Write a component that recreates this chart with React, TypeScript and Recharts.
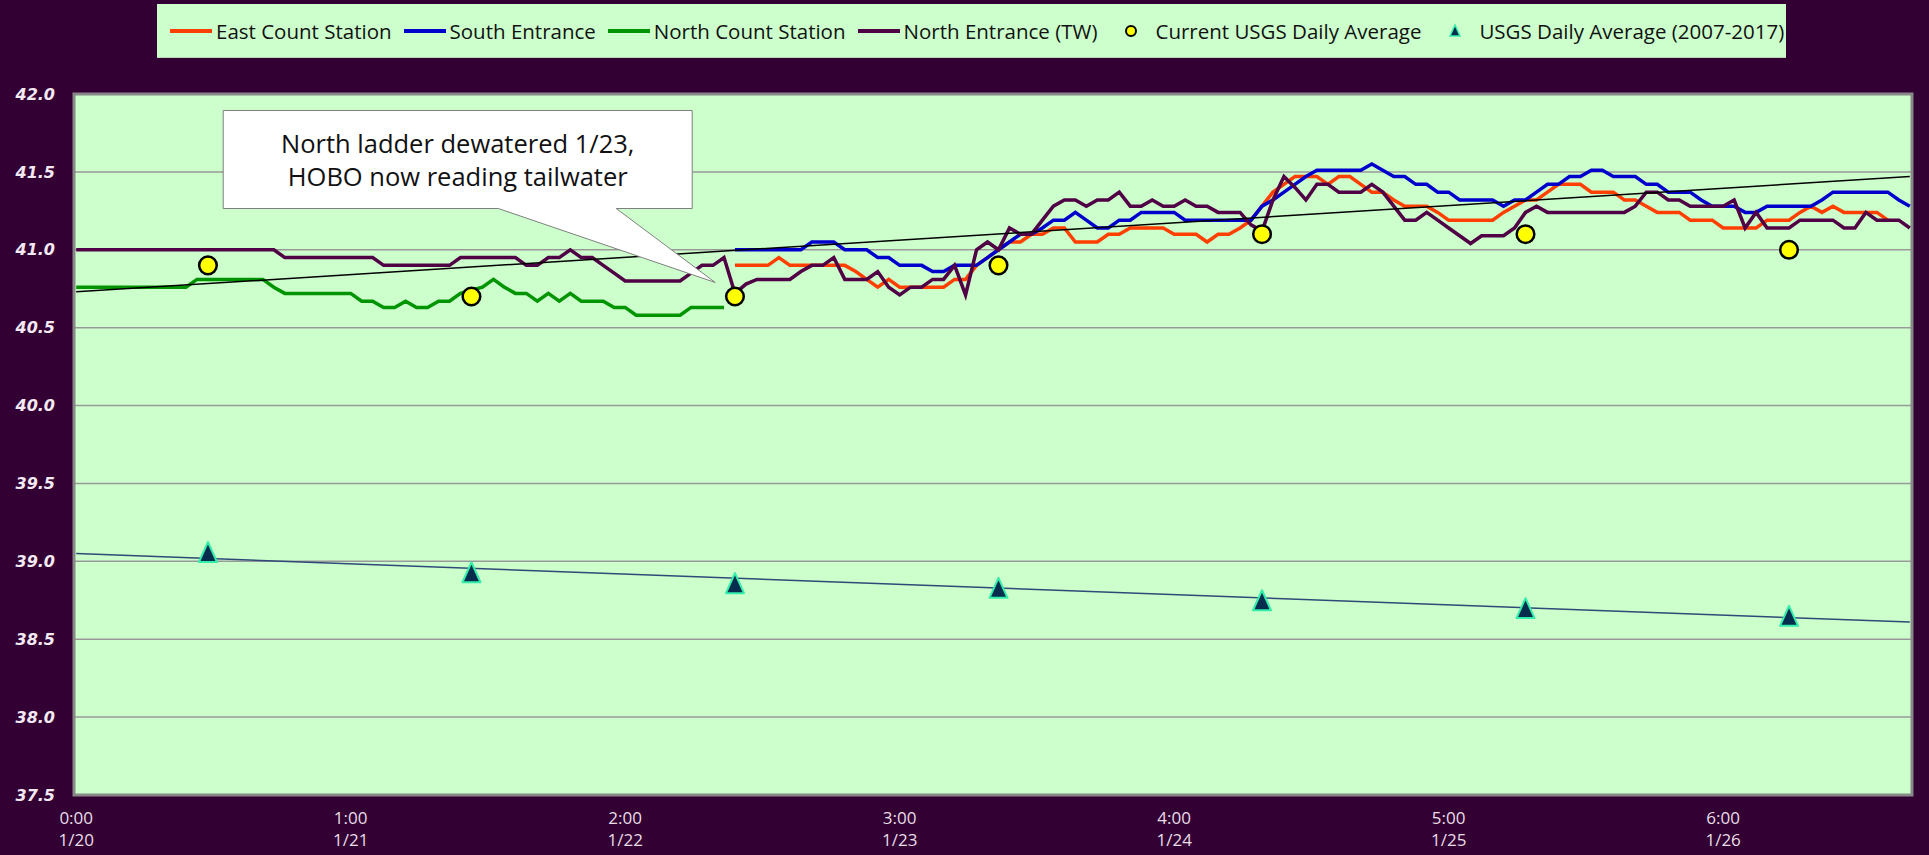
import {
  ComposedChart,
  Line,
  XAxis,
  YAxis,
  CartesianGrid,
  Legend,
  ReferenceArea,
  ReferenceDot,
} from "recharts";

// hours since 1/20 0:00; the axis steps 25 h so labels read 0:00 1/20, 1:00 1/21 ...
const tickHours = [0, 25, 50, 75, 100, 125, 150];
const tickTimes = ["0:00", "1:00", "2:00", "3:00", "4:00", "5:00", "6:00"];
const tickDates = ["1/20", "1/21", "1/22", "1/23", "1/24", "1/25", "1/26"];
const yTicks = [37.5, 38, 38.5, 39, 39.5, 40, 40.5, 41, 41.5, 42];

// hourly readings (ft)
const northEntranceStart = 0;
const northEntrance = [
  41.0, 41.0, 41.0, 41.0, 41.0, 41.0, 41.0, 41.0, 41.0, 41.0, 41.0, 41.0, 41.0, 41.0, 41.0, 41.0, 41.0, 41.0, 41.0, 40.95, 40.95, 40.95, 40.95, 40.95,
  40.95, 40.95, 40.95, 40.95, 40.9, 40.9, 40.9, 40.9, 40.9, 40.9, 40.9, 40.95, 40.95, 40.95, 40.95, 40.95, 40.95, 40.9, 40.9, 40.95, 40.95, 41.0, 40.95, 40.95,
  40.9, 40.85, 40.8, 40.8, 40.8, 40.8, 40.8, 40.8, 40.85, 40.9, 40.9, 40.95, 40.72, 40.78, 40.81, 40.81, 40.81, 40.81, 40.86, 40.9, 40.9, 40.95, 40.81, 40.81,
  40.81, 40.86, 40.76, 40.71, 40.76, 40.76, 40.81, 40.81, 40.9, 40.71, 41.0, 41.05, 41.0, 41.14, 41.1, 41.1, 41.19, 41.28, 41.32, 41.32, 41.28, 41.32, 41.32, 41.37,
  41.28, 41.28, 41.32, 41.28, 41.28, 41.32, 41.28, 41.28, 41.24, 41.24, 41.24, 41.16, 41.12, 41.32, 41.47, 41.4, 41.32, 41.42, 41.42, 41.37, 41.37, 41.37, 41.42, 41.37,
  41.28, 41.19, 41.19, 41.24, 41.19, 41.14, 41.09, 41.04, 41.09, 41.09, 41.09, 41.14, 41.24, 41.28, 41.24, 41.24, 41.24, 41.24, 41.24, 41.24, 41.24, 41.24, 41.28, 41.37,
  41.37, 41.32, 41.32, 41.28, 41.28, 41.28, 41.28, 41.32, 41.14, 41.24, 41.14, 41.14, 41.14, 41.19, 41.19, 41.19, 41.19, 41.14, 41.14, 41.24, 41.19, 41.19, 41.19, 41.14,
];

const northCountStart = 0;
const northCountStation = [
  40.76, 40.76, 40.76, 40.76, 40.76, 40.76, 40.76, 40.76, 40.76, 40.76, 40.76, 40.81, 40.81, 40.81, 40.81, 40.81, 40.81, 40.81, 40.76, 40.72, 40.72, 40.72, 40.72, 40.72,
  40.72, 40.72, 40.67, 40.67, 40.63, 40.63, 40.67, 40.63, 40.63, 40.67, 40.67, 40.72, 40.74, 40.76, 40.81, 40.76, 40.72, 40.72, 40.67, 40.72, 40.67, 40.72, 40.67, 40.67,
  40.67, 40.63, 40.63, 40.58, 40.58, 40.58, 40.58, 40.58, 40.63, 40.63, 40.63, 40.63,
];

const southStart = 60;
const southEntrance = [
  41.0, 41.0, 41.0, 41.0, 41.0, 41.0, 41.0, 41.05, 41.05, 41.05, 41.0, 41.0, 41.0, 40.95, 40.95, 40.9, 40.9, 40.9, 40.86, 40.86, 40.9, 40.9, 40.9, 40.95,
  41.0, 41.05, 41.1, 41.1, 41.14, 41.19, 41.19, 41.24, 41.19, 41.14, 41.14, 41.19,
  41.19, 41.24, 41.24, 41.24, 41.24, 41.19, 41.19, 41.19, 41.19, 41.19, 41.19, 41.19, 41.28, 41.32, 41.37, 41.42, 41.47, 41.51, 41.51, 41.51, 41.51, 41.51, 41.55, 41.51,
  41.47, 41.47, 41.42, 41.42, 41.37, 41.37, 41.32, 41.32, 41.32, 41.32, 41.28, 41.32, 41.32, 41.37, 41.42, 41.42, 41.47, 41.47, 41.51, 41.51, 41.47, 41.47, 41.47, 41.42,
  41.42, 41.37, 41.37, 41.37, 41.32, 41.28, 41.28, 41.28, 41.24, 41.24, 41.28, 41.28, 41.28, 41.28, 41.28, 41.32, 41.37, 41.37, 41.37, 41.37, 41.37, 41.37, 41.32, 41.28,
];

const eastStart = 60;
const eastCountStation = [
  40.9, 40.9, 40.9, 40.9, 40.95, 40.9, 40.9, 40.9, 40.9, 40.9, 40.9, 40.86, 40.81, 40.76, 40.81, 40.76, 40.76, 40.76, 40.76, 40.76, 40.81, 40.81, 40.9, 40.95,
  41.0, 41.05, 41.05, 41.1, 41.1, 41.14, 41.14, 41.05, 41.05, 41.05, 41.1, 41.1, 41.14, 41.14, 41.14, 41.14, 41.1, 41.1, 41.1, 41.05, 41.1, 41.1, 41.14, 41.19,
  41.28, 41.37, 41.42, 41.47, 41.47, 41.47, 41.42, 41.47, 41.47, 41.42, 41.37, 41.37, 41.32, 41.28, 41.28, 41.28, 41.24, 41.19, 41.19, 41.19, 41.19, 41.19, 41.24, 41.28,
  41.32, 41.32, 41.37, 41.42, 41.42, 41.42, 41.37, 41.37, 41.37, 41.32, 41.32, 41.28, 41.24, 41.24, 41.24, 41.19, 41.19, 41.19, 41.14, 41.14, 41.14, 41.14, 41.19, 41.19,
  41.19, 41.24, 41.28, 41.24, 41.28, 41.24, 41.24, 41.24, 41.24, 41.19,
];

// daily averages, plotted at noon
const dailyHours = [12, 36, 60, 84, 108, 132, 156];
const usgsCurrent = [40.9, 40.7, 40.7, 40.9, 41.1, 41.1, 41.0];
const usgsHistoric = [39.06, 38.93, 38.86, 38.83, 38.75, 38.7, 38.65];

// linear trend lines, end points
const trendHours = [0, 167];
const trendCurrent = [40.73, 41.47];
const trendHistoric = [39.05, 38.61];

const legendOrder = ["east", "south", "northCount", "northEntrance", "usgs", "usgsAvg"];

const pick = (arr: number[], start: number, h: number) =>
  h >= start && h - start < arr.length ? arr[h - start] : null;

const rows = northEntrance.map((_, h) => {
  const d = dailyHours.indexOf(h);
  const t = trendHours.indexOf(h);
  return {
    h,
    east: pick(eastCountStation, eastStart, h),
    south: pick(southEntrance, southStart, h),
    northCount: pick(northCountStation, northCountStart, h),
    northEntrance: pick(northEntrance, northEntranceStart, h),
    usgs: d >= 0 ? usgsCurrent[d] : null,
    usgsAvg: d >= 0 ? usgsHistoric[d] : null,
    trendA: t >= 0 ? trendCurrent[t] : null,
    trendB: t >= 0 ? trendHistoric[t] : null,
  };
});

const BG = "#330033";
const PLOT_BG = "#CCFFCC";
const TRI_FILL = "#062C4E";
const TRI_STROKE = "#33EEAA";

const CircleDot = (props: any) => {
  const { cx, cy, value, index } = props;
  if (value == null || cy == null) return <g key={index} />;
  return <circle key={index} cx={cx} cy={cy} r={8.8} fill="#FFFF00" stroke="#000" strokeWidth={2.5} />;
};

const TriangleDot = (props: any) => {
  const { cx, cy, value, index } = props;
  if (value == null || cy == null) return <g key={index} />;
  return (
    <path
      key={index}
      d={`M${cx},${cy - 10} L${cx + 9},${cy + 10} L${cx - 9},${cy + 10} Z`}
      fill={TRI_FILL}
      stroke={TRI_STROKE}
      strokeWidth={2}
      strokeLinejoin="round"
    />
  );
};

const XTick = (props: any) => {
  const { x, y, payload } = props;
  const i = tickHours.indexOf(payload.value);
  return (
    <text x={x} y={y} textAnchor="middle" fill="#E8DEE8" fontSize={17} fontFamily="'Open Sans', sans-serif">
      <tspan x={x} dy={29}>{tickTimes[i]}</tspan>
      <tspan x={x} dy={22}>{tickDates[i]}</tspan>
    </text>
  );
};

const Callout = (props: any) => {
  const { cx, cy } = props;
  const L = cx - 492;
  const R = cx - 23;
  const T = cy - 172;
  const B = cy - 74;
  const d = `M${L},${T} H${R} V${B} H${cx - 99} L${cx},${cy} L${cx - 217},${B} H${L} Z`;
  const mid = (L + R) / 2;
  return (
    <g>
      <path d={d} fill="#FFFFFF" stroke="#7F7F7F" strokeWidth={1} />
      <text textAnchor="middle" fill="#111" fontSize={25.5} fontFamily="'Open Sans', sans-serif">
        <tspan x={mid} y={cy - 129}>North ladder dewatered 1/23,</tspan>
        <tspan x={mid} y={cy - 96}>HOBO now reading tailwater</tspan>
      </text>
    </g>
  );
};

const legendIcon = (key: string, color: string) => {
  if (key === "usgs") return <circle cx={22} cy={10} r={5} fill="#FFFF00" stroke="#000" strokeWidth={2} />;
  if (key === "usgsAvg")
    return <path d="M22,4 L27,15 L17,15 Z" fill={TRI_FILL} stroke={TRI_STROKE} strokeWidth={1.5} />;
  return <line x1={0} y1={10} x2={42} y2={10} stroke={color} strokeWidth={4} />;
};

const LegendBox = (props: any) => {
  const items = (props.payload || [])
    .filter((p: any) => legendOrder.includes(p.dataKey))
    .sort((a: any, b: any) => legendOrder.indexOf(a.dataKey) - legendOrder.indexOf(b.dataKey));
  return (
    <div
      style={{
        display: "flex",
        alignItems: "center",
        height: 54,
        width: 1629,
        boxSizing: "border-box",
        padding: "0 0 0 13px",
        background: PLOT_BG,
        borderBottom: "1px solid #B8D8B8",
        fontFamily: "'Open Sans', sans-serif",
      }}
    >
      {items.map((p: any) => (
        <div key={p.dataKey} style={{ display: "flex", alignItems: "center", marginRight: 12 }}>
          <svg width={42} height={20}>{legendIcon(p.dataKey, p.color)}</svg>
          <span style={{ marginLeft: 4, fontSize: 20.5, color: "#111", whiteSpace: "nowrap" }}>{p.value}</span>
        </div>
      ))}
    </div>
  );
};

export default function App() {
  return (
    <div style={{ position: "absolute", left: 0, top: 0, width: 1929, height: 855, background: BG }}>
      <ComposedChart width={1929} height={855} data={rows} margin={{ top: 40, right: 17, bottom: 0, left: 0 }}>
        <CartesianGrid vertical={false} fill={PLOT_BG} stroke="#999999" strokeWidth={1.5} />
        <XAxis
          dataKey="h"
          type="number"
          domain={[-0.2, 167.2]}
          ticks={tickHours}
          tick={<XTick />}
          tickLine={false}
          axisLine={false}
          tickSize={0}
          tickMargin={0}
          height={60}
          interval={0}
        />
        <YAxis
          type="number"
          domain={[37.5, 42]}
          ticks={yTicks}
          width={74}
          tickLine={false}
          axisLine={false}
          tickMargin={13}
          tickFormatter={(v: number) => v.toFixed(1)}
          tick={{ fill: "#F3E9F3", fontSize: 16, fontWeight: "bold", fontStyle: "italic", fontFamily: "'DejaVu Sans', sans-serif" }}
        />
        <ReferenceArea x1={-0.2} x2={167.2} y1={37.5} y2={42} fill="none" stroke="#888888" strokeWidth={3} ifOverflow="visible" />
        <Legend verticalAlign="top" align="left" content={<LegendBox />} wrapperStyle={{ top: 4, left: 157, width: 1629, height: 54 }} />
        <Line name="East Count Station" dataKey="east" stroke="#FF3F00" strokeWidth={3.5} dot={false} activeDot={false} isAnimationActive={false} />
        <Line name="South Entrance" dataKey="south" stroke="#0000CC" strokeWidth={3.5} dot={false} activeDot={false} isAnimationActive={false} />
        <Line name="North Count Station" dataKey="northCount" stroke="#009400" strokeWidth={3.5} dot={false} activeDot={false} isAnimationActive={false} />
        <Line name="North Entrance (TW)" dataKey="northEntrance" stroke="#500044" strokeWidth={3.5} dot={false} activeDot={false} isAnimationActive={false} />
        <Line dataKey="trendA" stroke="#000000" strokeWidth={1.5} dot={false} activeDot={false} connectNulls legendType="none" isAnimationActive={false} />
        <Line dataKey="trendB" stroke="#2F4A78" strokeWidth={1.5} dot={false} activeDot={false} connectNulls legendType="none" isAnimationActive={false} />
        <Line name="Current USGS Daily Average" dataKey="usgs" stroke="none" dot={<CircleDot />} activeDot={false} isAnimationActive={false} />
        <Line name="USGS Daily Average (2007-2017)" dataKey="usgsAvg" stroke="none" dot={<TriangleDot />} activeDot={false} isAnimationActive={false} />
        <ReferenceDot x={58.2} y={40.79} ifOverflow="visible" shape={<Callout />} />
      </ComposedChart>
    </div>
  );
}
